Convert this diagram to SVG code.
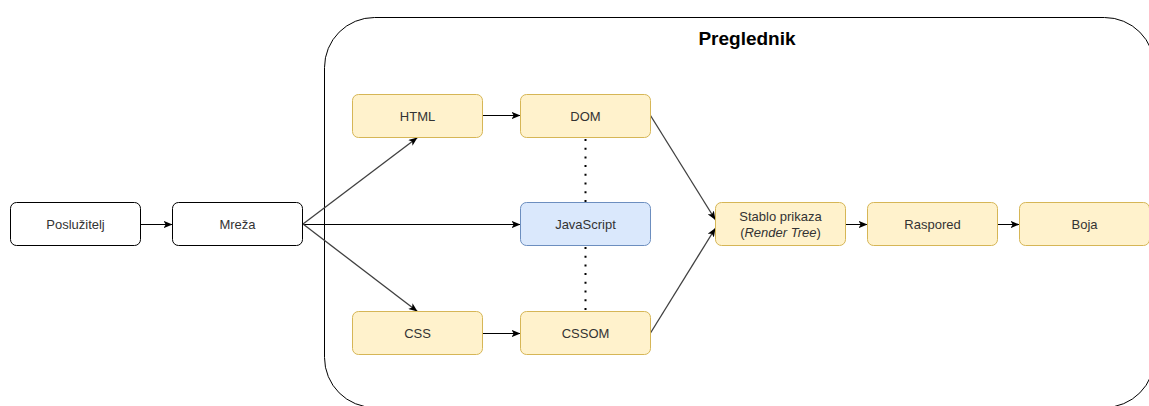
<svg xmlns="http://www.w3.org/2000/svg" width="1149" height="406" viewBox="0 0 1149 406">
<style>
.n rect{stroke-width:1}
.w rect{fill:#ffffff;stroke:#000000}
.y rect{fill:#fff2cc;stroke:#d6b656}
.b rect{fill:#dae8fc;stroke:#6c8ebf}
text{font-family:"Liberation Sans",Arial,sans-serif;font-size:13px;fill:#333333;text-anchor:middle}
.title{font-size:19px;font-weight:bold;fill:#000000}
.e{fill:none;stroke:#000000;stroke-width:1}
.g{stroke:#404040;stroke-width:1.3}
.d{fill:none;stroke:#000000;stroke-width:2;stroke-dasharray:2 6.7}
</style>
<defs>
<marker id="ar" viewBox="0 0 10 8" refX="10" refY="4" markerWidth="9" markerHeight="7.5" markerUnits="userSpaceOnUse" orient="auto">
<path d="M0,0 L10,4 L0,8 L2.5,4 z" fill="#000000"/>
</marker>
</defs>
<g id="preglednik">
<rect x="324.5" y="17.5" width="830" height="390" rx="50" ry="50" fill="#ffffff" stroke="#000000" stroke-width="1"/>
<text class="title" x="747" y="45">Preglednik</text>
</g>
<g id="connectors">
<line class="e" x1="140.5" y1="224.5" x2="172.5" y2="224.5" marker-end="url(#ar)"/>
<line class="e g" x1="303" y1="224" x2="417.5" y2="137.5" marker-end="url(#ar)"/>
<line class="e" x1="303" y1="224.5" x2="520.5" y2="224.5" marker-end="url(#ar)"/>
<line class="e g" x1="303" y1="224" x2="417.5" y2="311.5" marker-end="url(#ar)"/>
<line class="e" x1="482.5" y1="115.5" x2="520.5" y2="115.5" marker-end="url(#ar)"/>
<line class="e" x1="482.5" y1="333.5" x2="520.5" y2="333.5" marker-end="url(#ar)"/>
<line class="e g" x1="650.5" y1="115.5" x2="715.5" y2="220" marker-end="url(#ar)"/>
<line class="e g" x1="650.5" y1="333" x2="715.5" y2="228" marker-end="url(#ar)"/>
<line class="e" x1="845.5" y1="224.5" x2="867.5" y2="224.5" marker-end="url(#ar)"/>
<line class="e" x1="997.5" y1="224.5" x2="1019.5" y2="224.5" marker-end="url(#ar)"/>
<line class="d" x1="585.5" y1="138" x2="585.5" y2="202.5" stroke-dashoffset="-1"/>
<line class="d" x1="585.5" y1="246" x2="585.5" y2="311.5" stroke-dashoffset="-1"/>
</g>
<g id="posluzitelj" class="n w"><rect x="10.5" y="202.5" width="130" height="43" rx="6"/><text x="75.5" y="228.5">Poslužitelj</text></g>
<g id="mreza" class="n w"><rect x="172.5" y="202.5" width="130" height="43" rx="6"/><text x="237.5" y="228.5">Mreža</text></g>
<g id="html" class="n y"><rect x="352.5" y="94.5" width="130" height="43" rx="6"/><text x="417.5" y="120.5">HTML</text></g>
<g id="dom" class="n y"><rect x="520.5" y="94.5" width="130" height="43" rx="6"/><text x="585.5" y="120.5">DOM</text></g>
<g id="javascript" class="n b"><rect x="520.5" y="202.5" width="130" height="43" rx="6"/><text x="585.5" y="228.5">JavaScript</text></g>
<g id="css" class="n y"><rect x="352.5" y="311.5" width="130" height="43" rx="6"/><text x="417.5" y="337.5">CSS</text></g>
<g id="cssom" class="n y"><rect x="520.5" y="311.5" width="130" height="43" rx="6"/><text x="585.5" y="337.5">CSSOM</text></g>
<g id="stablo" class="n y"><rect x="715.5" y="202.5" width="130" height="43" rx="6"/><text x="780.5" y="220.5">Stablo prikaza</text><text x="780.5" y="237">(<tspan font-style="italic">Render Tree</tspan>)</text></g>
<g id="raspored" class="n y"><rect x="867.5" y="202.5" width="130" height="43" rx="6"/><text x="932.5" y="228.5">Raspored</text></g>
<g id="boja" class="n y"><rect x="1019.5" y="202.5" width="130" height="43" rx="6"/><text x="1084.5" y="228.5">Boja</text></g>
</svg>
